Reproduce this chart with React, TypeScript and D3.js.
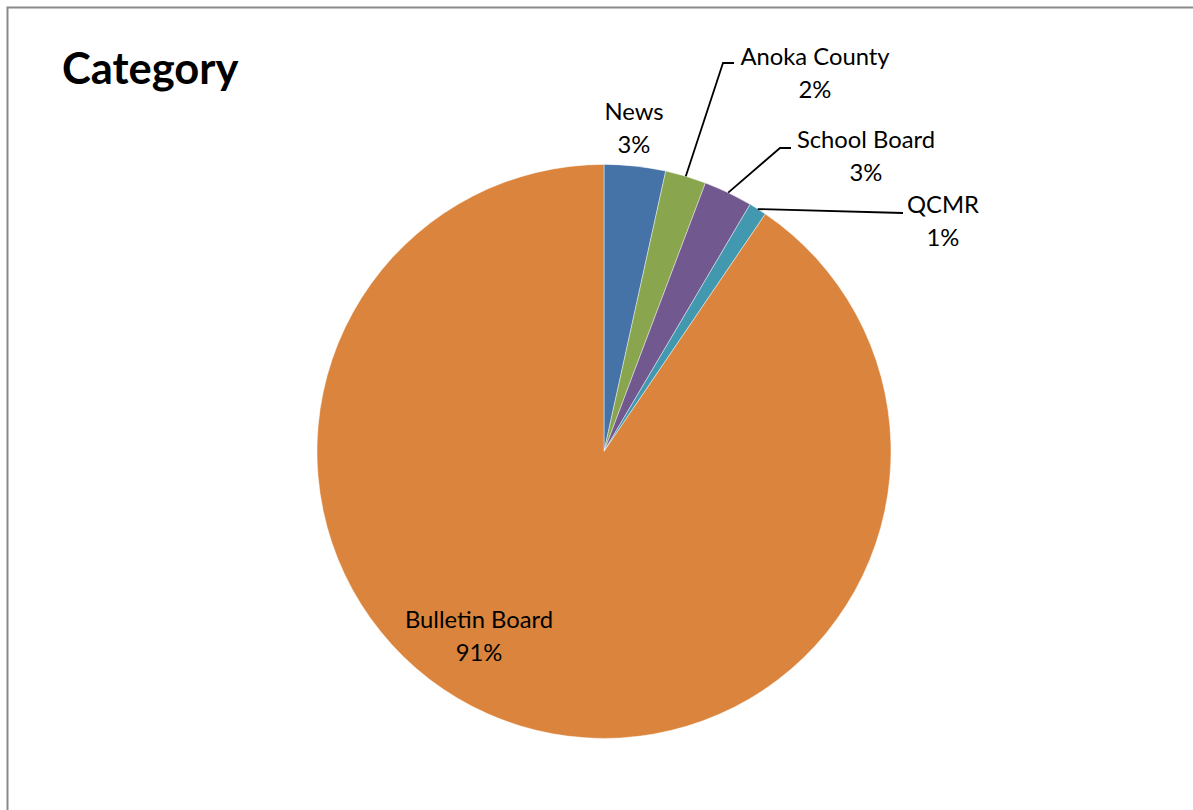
import React from "react";
import * as d3 from "d3";

const categories = ["News", "Anoka County", "School Board", "QCMR", "Bulletin Board"];
const values = [3.45, 2.3, 2.75, 1.0, 90.5];
const colors = ["#4572A7", "#89A54E", "#71588F", "#4198AF", "#DB843D"];
// label centers (x, y of first baseline) and leader elbows per category
const labelPos: [number, number][] = [
  [634, 120],
  [815, 65],
  [866, 148],
  [943, 213],
  [479, 628],
];
const leaderEnds: ([number, number][] | null)[] = [
  null,
  [[723, 63], [734, 63]],
  [[780, 148], [791, 148]],
  [[903, 213]],
  null,
];

const W = 1193;
const H = 810;
const cx = 604;
const cy = 451.4;
const R = 287;
const FONT = "Lato, 'Open Sans', sans-serif";

export default function App() {
  const total = d3.sum(values);
  const pie = d3.pie<number>().sort(null).value((d) => d)(values);
  const arc = d3.arc<d3.PieArcDatum<number>>().innerRadius(0).outerRadius(R);

  return (
    <svg
      width={W}
      height={H}
      style={{ position: "absolute", left: 0, top: 0, background: "#fff" }}
    >
      <rect x={7.5} y={7.5} width={1300} height={900} fill="#fff" stroke="#898989" strokeWidth={2} />
      <text x={62} y={84} fontFamily={FONT} fontWeight={700} fontSize={43.5} fill="#000">
        Category
      </text>
      <g transform={`translate(${cx},${cy})`}>
        {pie.map((p, i) => (
          <path key={i} d={arc(p) || ""} fill={colors[i]} stroke="#fff" strokeWidth={0.6} strokeOpacity={0.7} />
        ))}
      </g>
      {pie.map((p, i) => {
        const ends = leaderEnds[i];
        if (!ends) return null;
        const mid = (p.startAngle + p.endAngle) / 2;
        const sx = cx + R * Math.sin(mid);
        const sy = cy - R * Math.cos(mid);
        const pts: [number, number][] = [[sx, sy], ...ends];
        return (
          <path key={"l" + i} d={d3.line()(pts) || ""} fill="none" stroke="#000" strokeWidth={1.8} />
        );
      })}
      {categories.map((c, i) => {
        const [x, y] = labelPos[i];
        const pct = Math.round((values[i] / total) * 100);
        return (
          <text key={"t" + i} fontFamily={FONT} fontSize={23.8} fill="#000" textAnchor="middle">
            <tspan x={x} y={y}>{c}</tspan>
            <tspan x={x} y={y + 32.5}>{pct + "%"}</tspan>
          </text>
        );
      })}
    </svg>
  );
}
